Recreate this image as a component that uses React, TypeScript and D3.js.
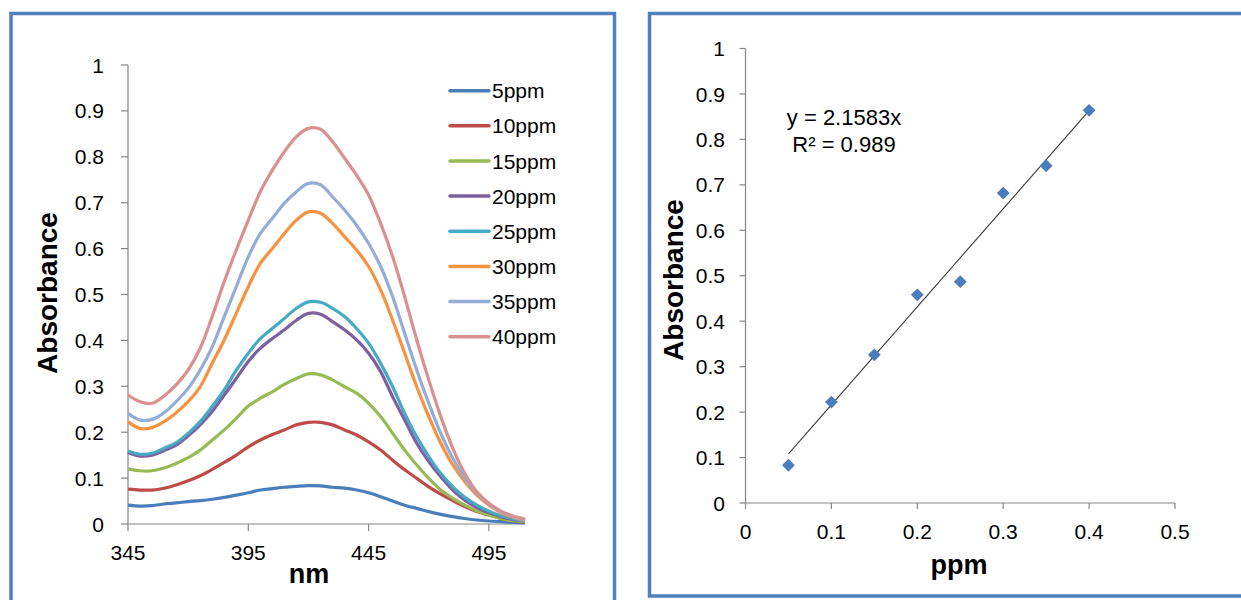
import React from "react";
import * as d3 from "d3";

// ---------- Left chart data ----------
const wavelengths = d3.range(345, 511, 5); // 345..510 nm
const seriesNames = ["5ppm", "10ppm", "15ppm", "20ppm", "25ppm", "30ppm", "35ppm", "40ppm"];
const seriesColors = ["#4A7EBB", "#BE4B48", "#98B954", "#7D60A0", "#46AAC5", "#F69240", "#93ACD8", "#D9908E"];

const s5 = [0.041, 0.039, 0.040, 0.0436, 0.046, 0.0487, 0.051, 0.054, 0.058, 0.063, 0.068, 0.074, 0.077, 0.080, 0.082, 0.0835, 0.083, 0.080, 0.078, 0.074, 0.068, 0.0595, 0.050, 0.041, 0.034, 0.027, 0.021, 0.016, 0.012, 0.0087, 0.0065, 0.005, 0.0036, 0.003];
const s10 = [0.076, 0.074, 0.074, 0.078, 0.085, 0.094, 0.105, 0.119, 0.134, 0.150, 0.168, 0.183, 0.195, 0.205, 0.216, 0.2215, 0.2215, 0.216, 0.205, 0.194, 0.179, 0.161, 0.139, 0.118, 0.0995, 0.081, 0.065, 0.051, 0.038, 0.027, 0.0196, 0.012, 0.007, 0.0036];
const s15 = [0.120, 0.116, 0.116, 0.122, 0.132, 0.1445, 0.161, 0.183, 0.205, 0.230, 0.257, 0.274, 0.288, 0.304, 0.317, 0.327, 0.325, 0.314, 0.299, 0.285, 0.263, 0.234, 0.1975, 0.161, 0.1285, 0.0995, 0.074, 0.056, 0.041, 0.029, 0.0196, 0.012, 0.007, 0.0044];
const s20 = [0.156, 0.148, 0.150, 0.160, 0.172, 0.192, 0.216, 0.245, 0.281, 0.317, 0.354, 0.383, 0.404, 0.423, 0.444, 0.459, 0.457, 0.441, 0.423, 0.401, 0.372, 0.332, 0.277, 0.2266, 0.176, 0.136, 0.103, 0.074, 0.052, 0.036, 0.025, 0.016, 0.010, 0.006];
const s25 = [0.159, 0.152, 0.154, 0.165, 0.177, 0.1975, 0.223, 0.256, 0.292, 0.335, 0.372, 0.404, 0.426, 0.448, 0.470, 0.484, 0.483, 0.470, 0.452, 0.426, 0.394, 0.350, 0.299, 0.241, 0.190, 0.147, 0.110, 0.081, 0.058, 0.041, 0.028, 0.018, 0.0116, 0.0065];
const s30 = [0.223, 0.208, 0.210, 0.223, 0.2425, 0.2665, 0.299, 0.350, 0.401, 0.459, 0.517, 0.568, 0.600, 0.633, 0.662, 0.680, 0.677, 0.655, 0.626, 0.597, 0.561, 0.510, 0.444, 0.372, 0.299, 0.234, 0.176, 0.1285, 0.092, 0.063, 0.041, 0.025, 0.0145, 0.007];
const s35 = [0.241, 0.2266, 0.228, 0.2425, 0.2665, 0.2955, 0.3355, 0.386, 0.452, 0.517, 0.582, 0.633, 0.666, 0.699, 0.724, 0.742, 0.739, 0.713, 0.684, 0.651, 0.611, 0.561, 0.495, 0.415, 0.3355, 0.263, 0.1975, 0.143, 0.0995, 0.067, 0.0436, 0.027, 0.016, 0.0087];
const s40 = [0.281, 0.2665, 0.263, 0.279, 0.303, 0.3355, 0.383, 0.452, 0.528, 0.597, 0.662, 0.724, 0.771, 0.811, 0.844, 0.862, 0.860, 0.833, 0.797, 0.760, 0.717, 0.655, 0.582, 0.495, 0.401, 0.314, 0.234, 0.165, 0.110, 0.070, 0.045, 0.028, 0.0174, 0.011];
const spectra = [s5, s10, s15, s20, s25, s30, s35, s40];

const leftXTicks = [345, 395, 445, 495];
const yTicks = [0, 0.1, 0.2, 0.3, 0.4, 0.5, 0.6, 0.7, 0.8, 0.9, 1];

// ---------- Right chart data ----------
const ppm = [0.05, 0.1, 0.15, 0.2, 0.25, 0.3, 0.35, 0.4];
const absorbance = [0.083, 0.222, 0.326, 0.458, 0.487, 0.682, 0.742, 0.864];
const slope = 2.1583;
const rightXTicks = [0, 0.1, 0.2, 0.3, 0.4, 0.5];

const FONT = "'Liberation Sans', Arial, sans-serif";
const AXIS = "#868686";
const FRAME = "#4F81BD";

export default function App() {
  // left scales
  const lx = d3.scaleLinear().domain([345, 510]).range([128, 525]);
  const ly = d3.scaleLinear().domain([0, 1]).range([524, 65]);
  const line = d3
    .line<number>()
    .x((_, i) => lx(wavelengths[i]))
    .y((d) => ly(d))
    .curve(d3.curveCatmullRom.alpha(0.5));

  // right scales
  const rx = d3.scaleLinear().domain([0, 0.5]).range([745.5, 1175]);
  const ry = d3.scaleLinear().domain([0, 1]).range([503, 48.5]);
  const diamond = d3.symbol().type(d3.symbolSquare).size(82)();
  const fitX0 = d3.min(ppm) as number;
  const fitX1 = d3.max(ppm) as number;

  const legendY0 = 90.7;
  const legendStep = 35.14;

  return (
    <svg
      width={1241}
      height={600}
      style={{ position: "absolute", left: 0, top: 0, background: "#fff" }}
      fontFamily={FONT}
    >
      <rect x={0} y={0} width={1241} height={600} fill="#fff" />
      {/* frames */}
      <rect x={11} y={13.5} width={603.5} height={620} fill="none" stroke={FRAME} strokeWidth={3.5} />
      <rect x={649.5} y={13.5} width={700} height={582.5} fill="none" stroke={FRAME} strokeWidth={3.5} />

      {/* ---------- LEFT CHART ---------- */}
      <g>
        <line x1={lx(345)} x2={lx(345)} y1={ly(1)} y2={ly(0)} stroke={AXIS} strokeWidth={1.2} />
        {yTicks.map((t) => (
          <g key={"ly" + t}>
            <line x1={lx(345) - 7} x2={lx(345)} y1={ly(t)} y2={ly(t)} stroke={AXIS} strokeWidth={1.2} />
            <text x={104} y={ly(t)} dy="0.36em" textAnchor="end" fontSize={21} fill="#000">
              {t === 0 ? "0" : t === 1 ? "1" : t.toFixed(1)}
            </text>
          </g>
        ))}
        <line x1={lx(345)} x2={lx(510)} y1={ly(0)} y2={ly(0)} stroke={AXIS} strokeWidth={1.2} />
        {leftXTicks.map((t) => (
          <g key={"lx" + t}>
            <line x1={lx(t)} x2={lx(t)} y1={ly(0)} y2={ly(0) + 7} stroke={AXIS} strokeWidth={1.2} />
            <text x={lx(t)} y={560} textAnchor="middle" fontSize={21} fill="#000">
              {t}
            </text>
          </g>
        ))}
        {spectra.map((s, i) => (
          <path key={"sp" + i} d={line(s) || ""} fill="none" stroke={seriesColors[i]} strokeWidth={3.2} strokeLinejoin="round" />
        ))}
        <text x={309} y={583} textAnchor="middle" fontSize={27} fontWeight="bold" fill="#000">
          nm
        </text>
        <text transform={`translate(57,293) rotate(-90)`} textAnchor="middle" fontSize={28} fontWeight="bold" fill="#000">
          Absorbance
        </text>
        {seriesNames.map((n, i) => {
          const y = legendY0 + i * legendStep;
          return (
            <g key={"lg" + n}>
              <line x1={450} x2={489} y1={y} y2={y} stroke={seriesColors[i]} strokeWidth={3.5} strokeLinecap="round" />
              <text x={492} y={y} dy="0.36em" fontSize={21} fill="#000">
                {n}
              </text>
            </g>
          );
        })}
      </g>

      {/* ---------- RIGHT CHART ---------- */}
      <g>
        <line x1={rx(0)} x2={rx(0)} y1={ry(1)} y2={ry(0)} stroke={AXIS} strokeWidth={1.2} />
        {yTicks.map((t) => (
          <g key={"ry" + t}>
            <line x1={rx(0) - 6} x2={rx(0)} y1={ry(t)} y2={ry(t)} stroke={AXIS} strokeWidth={1.2} />
            <text x={725} y={ry(t)} dy="0.36em" textAnchor="end" fontSize={21} fill="#000">
              {t === 0 ? "0" : t === 1 ? "1" : t.toFixed(1)}
            </text>
          </g>
        ))}
        <line x1={rx(0)} x2={rx(0.5)} y1={ry(0)} y2={ry(0)} stroke={AXIS} strokeWidth={1.2} />
        {rightXTicks.map((t) => (
          <g key={"rx" + t}>
            <line x1={rx(t)} x2={rx(t)} y1={ry(0)} y2={ry(0) + 6} stroke={AXIS} strokeWidth={1.2} />
            <text x={rx(t)} y={539} textAnchor="middle" fontSize={21} fill="#000">
              {t === 0 ? "0" : t.toFixed(1)}
            </text>
          </g>
        ))}
        <line x1={rx(fitX0)} y1={ry(slope * fitX0)} x2={rx(fitX1)} y2={ry(slope * fitX1)} stroke="#3a3a3a" strokeWidth={1.1} />
        {ppm.map((p, i) => (
          <path
            key={"pt" + i}
            d={diamond || ""}
            transform={`translate(${rx(p)},${ry(absorbance[i])}) rotate(45)`}
            fill="#4A7EBB"
          />
        ))}
        <text x={844} y={125} textAnchor="middle" fontSize={22} fill="#000">
          y = 2.1583x
        </text>
        <text x={844} y={151.5} textAnchor="middle" fontSize={22} fill="#000">
          R² = 0.989
        </text>
        <text x={959} y={574} textAnchor="middle" fontSize={27} fontWeight="bold" fill="#000">
          ppm
        </text>
        <text transform={`translate(683,280) rotate(-90)`} textAnchor="middle" fontSize={28} fontWeight="bold" fill="#000">
          Absorbance
        </text>
      </g>
    </svg>
  );
}
